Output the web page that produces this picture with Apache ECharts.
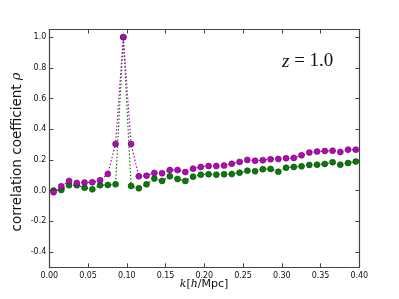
<!DOCTYPE html>
<html><head><meta charset="utf-8">
<script src="https://cdn.jsdelivr.net/npm/echarts@6/dist/echarts.min.js"></script>
<style>html,body{margin:0;padding:0;background:#fff}#c{width:399px;height:299px}</style>
</head><body><div id="c"></div>
<script>
const kValues = [0.0055,0.0155,0.0255,0.0355,0.0455,0.0555,0.0655,0.0755,0.0855,0.0955,
  0.1055,0.1155,0.1255,0.1355,0.1455,0.1555,0.1655,0.1755,0.1855,0.1955,
  0.2055,0.2155,0.2255,0.2355,0.2455,0.2555,0.2655,0.2755,0.2855,0.2955,
  0.3055,0.3155,0.3255,0.3355,0.3455,0.3555,0.3655,0.3755,0.3855,0.3955];
const magentaValues = [-0.011,0.028,0.063,0.050,0.052,0.054,0.067,0.108,0.304,1.0,
  0.304,0.093,0.097,0.115,0.113,0.134,0.134,0.121,0.143,0.154,
  0.160,0.160,0.163,0.175,0.187,0.200,0.195,0.198,0.204,0.206,
  0.211,0.213,0.230,0.248,0.254,0.258,0.260,0.252,0.267,0.267];
const greenValues = [0.000,0.004,0.035,0.035,0.019,0.008,0.035,0.037,0.041,1.0,
  0.030,0.015,0.041,0.078,0.063,0.093,0.076,0.063,0.091,0.104,
  0.106,0.104,0.106,0.108,0.117,0.130,0.126,0.139,0.141,0.123,
  0.149,0.154,0.158,0.167,0.169,0.174,0.185,0.169,0.180,0.189];
const xTicks = [0,0.05,0.1,0.15,0.2,0.25,0.3,0.35,0.4];
const yTicks = [-0.4,-0.2,0,0.2,0.4,0.6,0.8,1.0];

const chart = echarts.init(document.getElementById('c'), null, {renderer:'canvas'});
const axisLine = {show:true, onZero:false, lineStyle:{color:'#444', width:1.2}};
const tick = (vals)=>({inside:true, length:4, customValues:vals, lineStyle:{color:'#444'}});
const lbl = {fontFamily:'DejaVu Sans', fontSize:8, color:'#111'};
function pairs(ys){ return kValues.map((k,i)=>[k, ys[i]]); }
function series(name, color, ys, z){
  return {name, type:'line', data:pairs(ys), z,
    symbol:'circle', symbolSize:6,
    itemStyle:{color, borderColor:'#222', borderWidth:0.5},
    lineStyle:{color, width:1.2, type:[1.5,2]},
    emphasis:{disabled:true}, animation:false};
}
chart.setOption({
  animation:false,
  grid:{left:49.3, right:39.7, top:29.5, bottom:31.7, containLabel:false},
  xAxis:[
    {type:'value', min:0, max:0.4, position:'bottom', axisLine, axisTick:tick(xTicks),
     axisLabel:{...lbl, margin:5, customValues:xTicks, formatter:v=>v.toFixed(2)},
     splitLine:{show:false}},
    {type:'value', min:0, max:0.4, position:'top', axisLine, axisTick:tick(xTicks),
     axisLabel:{show:false}, splitLine:{show:false}}
  ],
  yAxis:[
    {type:'value', min:-0.5, max:1.05, position:'left', axisLine, axisTick:tick(yTicks),
     axisLabel:{...lbl, margin:3, customValues:yTicks, formatter:v=>v.toFixed(1)},
     splitLine:{show:false}},
    {type:'value', min:-0.5, max:1.05, position:'right', axisLine, axisTick:tick(yTicks),
     axisLabel:{show:false}, splitLine:{show:false}}
  ],
  series:[
    series('green', '#008000', greenValues, 2),
    series('magenta', '#bf00bf', magentaValues, 3)
  ],
  graphic:[
    {type:'text', x:204, y:284, style:{
      text:'{i|k}{n|[}{i|h}{n|/Mpc]}', align:'center', verticalAlign:'middle',
      rich:{i:{fontFamily:'DejaVu Serif', fontStyle:'italic', fontSize:11, fill:'#111'},
            n:{fontFamily:'DejaVu Sans', fontSize:11, fill:'#111'}}}},
    {type:'text', rotation:Math.PI/2, x:17, y:152, style:{
      text:'correlation coefficient {r|ρ}', align:'center', verticalAlign:'middle',
      fontFamily:'DejaVu Sans', fontSize:13.5, fill:'#111',
      rich:{r:{fontFamily:'DejaVu Serif', fontStyle:'italic', fontSize:13, fill:'#111'}}}},
    {type:'text', x:282, y:52, style:{
      text:'{i|z} = 1.0', fontFamily:'Liberation Serif', fontSize:19, fill:'#111',
      rich:{i:{fontFamily:'Liberation Serif', fontStyle:'italic', fontSize:19, fill:'#111'}}}}
  ]
});
</script></body></html>
